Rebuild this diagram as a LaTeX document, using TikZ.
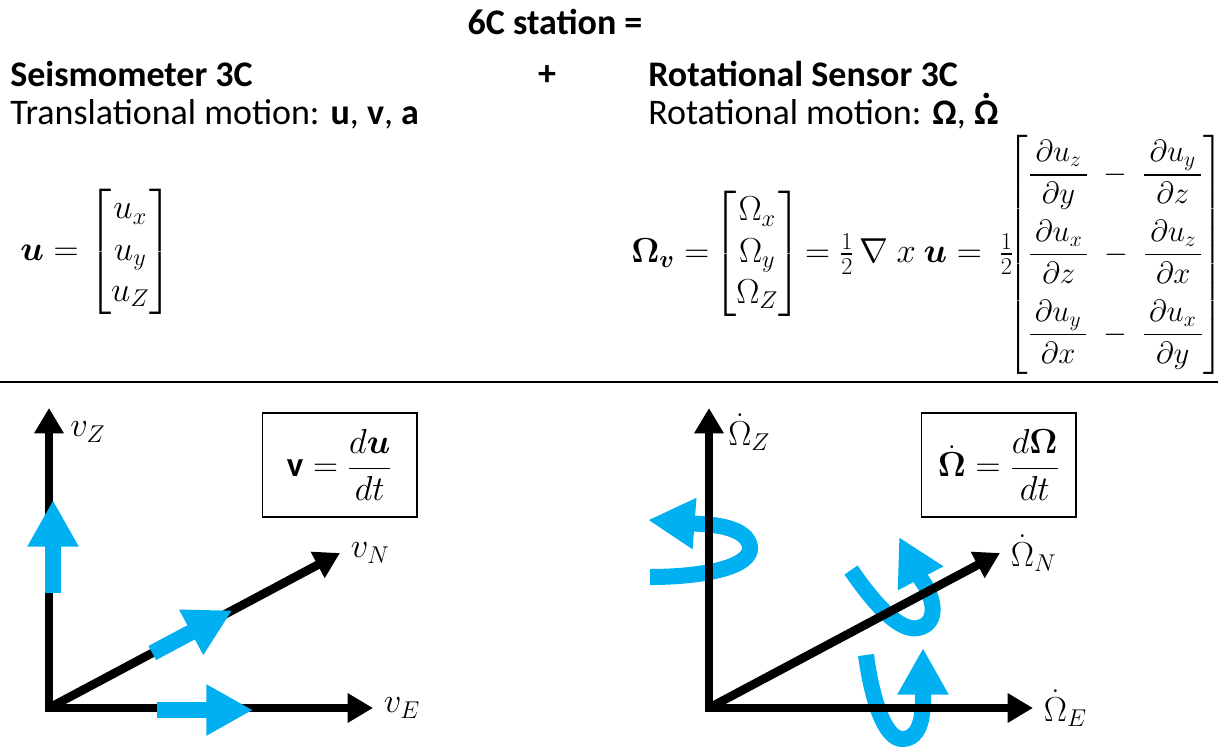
\RequirePackage{fix-cm}
\documentclass[tikz,border=0pt]{standalone}
\usepackage{amsmath,amssymb}
\usepackage{fontspec}
\setmainfont{Carlito}
\usepackage{tikz}
\usetikzlibrary{arrows.meta,positioning,calc}

\definecolor{spinblue}{HTML}{00B0F0}

\begin{document}
\begin{tikzpicture}[
x=0.75pt, y=-0.75pt,
txt/.style={font=\fontsize{27}{32}\selectfont, inner sep=0pt},
txtb/.style={font=\bfseries\fontsize{27}{32}\selectfont, inner sep=0pt},
eq/.style={font=\fontsize{26}{31}\selectfont, inner sep=0pt},
eqbox/.style={draw, line width=1pt, minimum width=116pt, minimum height=78pt, font=\fontsize{26}{31}\selectfont},
axtip/.tip={Triangle[length=19pt,width=21pt]},
axisline/.style={line width=6.5pt, line join=miter},
spin/.style={draw=spinblue, line width=12pt, -{Triangle[length=35pt,width=36pt]}}
]
\useasboundingbox (0,0) rectangle (1224,747);

% headings
\node[txtb] (title) at (555,22) {6C station =};
\node[txtb, anchor=base west] (seis) at (10,86) {Seismometer 3C};
\node[txt, anchor=base west] (trans) at (10,124) {Translational motion: \textbf{u}, \textbf{v}, \textbf{a}};
\node[txtb] (plus) at (547,76) {+};
\node[txtb, anchor=base west] (rotsens) at (648,86) {Rotational Sensor 3C};
\node[txt, anchor=base west] (rotmot) at (648,124) {Rotational motion: \textbf{Ω}, \textbf{\accent"02D9 Ω}};

% equations
\node[eq, anchor=west] (ueq) at (20,252) {$\boldsymbol{u} = \begin{bmatrix} u_x\\ u_y\\ u_Z \end{bmatrix}$};
\node[eq, anchor=west] (omeq) at (631,255) {$\boldsymbol{\Omega_v} = \!\begin{bmatrix} \Omega_x\\ \Omega_y\\ \Omega_Z \end{bmatrix}\! = \tfrac{1}{2}\,\nabla\ x\ \boldsymbol{u} = \ \tfrac{1}{2}\!\mbox{\fontsize{23}{28}\selectfont$\begin{bmatrix} \dfrac{\,\partial u_z\,}{\partial y} \;-\; \dfrac{\,\partial u_y\,}{\partial z}\\[20pt] \dfrac{\,\partial u_x\,}{\partial z} \;-\; \dfrac{\,\partial u_z\,}{\partial x}\\[20pt] \dfrac{\,\partial u_y\,}{\partial x} \;-\; \dfrac{\,\partial u_x\,}{\partial y} \end{bmatrix}$}$};

\draw[line width=2.2pt] (0,382) -- (1218,382);

% translational axes
\coordinate (vO) at (49,708);
\coordinate (vZ) at (49,408);
\coordinate (vE) at (373,708);
\coordinate (vN) at (340,553);
\draw[axisline, axtip-axtip] (vZ) |- (vE);
\draw[axisline, -axtip] (vO) -- (vN);
\draw[spin] (53,593) -- (53,500);
\draw[spin] (157,710) -- (253,710);
\draw[spin] ($(vO)!0.355!(vN)$) -- ($(vO)!0.63!(vN)$);
\node[eq, anchor=west] (vZlbl) at (70,432) {$v_Z$};
\node[eq, right=8pt of vN] (vNlbl) {$v_N$};
\node[eq, right=8pt of vE] (vElbl) {$v_E$};
\node[eqbox] (vbox) at (339.5,465) {$\mathbf{v} = \dfrac{d\boldsymbol{u}}{dt}$};

% rotational axes
\coordinate (wO) at (709,708);
\coordinate (wZ) at (709,408);
\coordinate (wE) at (1033,708);
\coordinate (wN) at (1000,553);
\draw[spin] (650,577) .. controls (700,577) and (752,568) .. (750,547) .. controls (748,530) and (722,525) .. (701,524) -- (648,520);
\draw[spin] (851,570) .. controls (875,605) and (900,632) .. (918,628) .. controls (938,624) and (936,600) .. (921,579) -- (899,537);
\draw[spin] (866,655) .. controls (872,700) and (885,740) .. (903,739) .. controls (921,738) and (923,715) .. (923,697) -- (923,648);
\draw[axisline, axtip-axtip] (wZ) |- (wE);
\draw[axisline, -axtip] (wO) -- (wN);
\node[eq, anchor=west] (wZlbl) at (728,432) {$\dot{\Omega}_Z$};
\node[eq, right=8pt of wN] (wNlbl) {$\dot{\Omega}_N$};
\node[eq, right=8pt of wE] (wElbl) {$\dot{\Omega}_E$};
\node[eqbox] (wbox) at (998.5,465) {$\dot{\boldsymbol{\Omega}} = \dfrac{d\boldsymbol{\Omega}}{dt}$};

\end{tikzpicture}
\end{document}
